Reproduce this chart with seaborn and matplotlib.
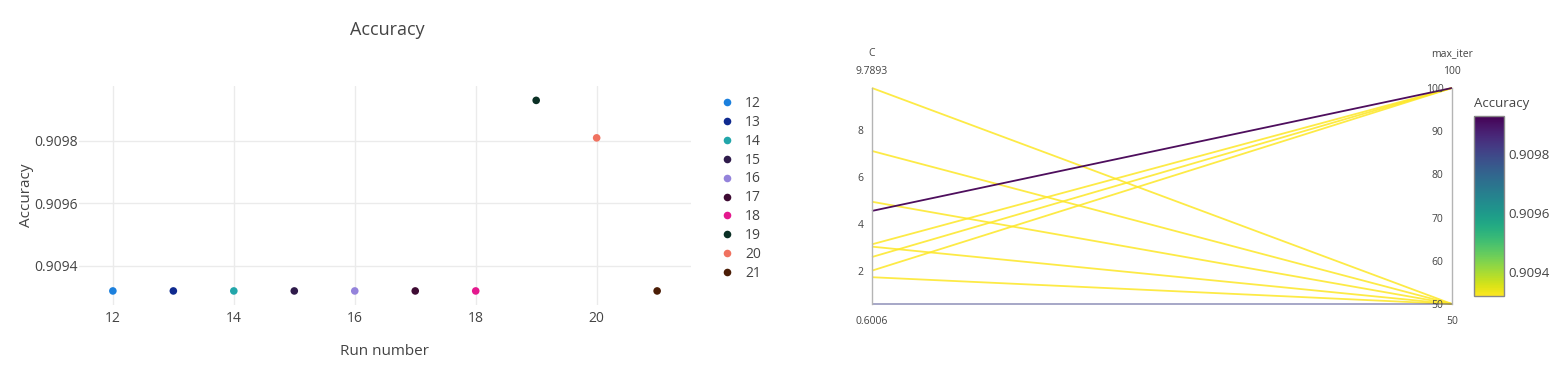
import numpy as np
import pandas as pd
import matplotlib
matplotlib.use("Agg")
import matplotlib.pyplot as plt
import seaborn as sns
from matplotlib.colors import Normalize

# ---------------- data ----------------
runs = [12, 13, 14, 15, 16, 17, 18, 19, 20, 21]
accuracy = [0.90932, 0.90932, 0.90932, 0.90932, 0.90932, 0.90932, 0.90932,
            0.90993, 0.90981, 0.90932]
C_values = [9.7893, 7.11, 4.95, 3.14, 3.04, 2.60, 2.02, 4.56, 0.6006, 1.74]
max_iter = [50, 50, 50, 100, 50, 100, 100, 100, 50, 50]
run_colors = ["#1c80dd", "#0f2a8f", "#22a6aa", "#2f1b4b", "#9483db",
              "#3e0b33", "#e4198e", "#0b3025", "#f07260", "#4b1d06"]
acc_ticks = [0.9094, 0.9096, 0.9098]
run_ticks = [12, 14, 16, 18, 20]
C_ticks = [2, 4, 6, 8]
iter_ticks = [50, 60, 70, 80, 90, 100]

df = pd.DataFrame({"run": runs, "Accuracy": accuracy, "C": C_values,
                   "max_iter": max_iter})
df["run_label"] = df["run"].astype(str)

sns.set_theme(style="white")
plt.rcParams["font.family"] = ["Open Sans", "DejaVu Sans"]
TXT = "#444444"

W, H = 1562, 378
fig = plt.figure(figsize=(W / 100, H / 100), dpi=100)

def rect(x0, y0, x1, y1):
    return [x0 / W, 1 - y1 / H, (x1 - x0) / W, (y1 - y0) / H]

# ---------------- left scatter ----------------
ax = fig.add_axes(rect(79, 86, 691, 305))
palette = dict(zip(df["run_label"], run_colors))
sns.scatterplot(data=df, x="run", y="Accuracy", hue="run_label",
                palette=palette, s=30, edgecolor="none", ax=ax, legend=True)
ax.set_xlim(11.44, 21.56)
ax.set_ylim(0.909275, 0.909976)
ax.set_xticks(run_ticks)
ax.set_yticks(acc_ticks)
ax.set_yticklabels([f"{t:.4f}" for t in acc_ticks])
ax.grid(True, color="#ebebeb", lw=1)
ax.set_axisbelow(True)
for s in ax.spines.values():
    s.set_visible(False)
ax.tick_params(length=0, labelsize=10, colors=TXT)
ax.tick_params(axis="y", pad=1)
ax.tick_params(axis="x", pad=4)
ax.set_xlabel("Run number", fontsize=11, color=TXT, labelpad=13)
ax.set_ylabel("Accuracy", fontsize=11, color=TXT, labelpad=0)
fig.text(387 / W, 1 - 30 / H, "Accuracy", ha="center", va="center",
         fontsize=13, color=TXT)
handles, labels = ax.get_legend_handles_labels()
ax.legend(handles, labels, loc="upper left",
          bbox_to_anchor=(713 / W, 1 - 89 / H), bbox_transform=fig.transFigure,
          frameon=False, fontsize=10, labelspacing=0.28, handletextpad=0.8,
          handlelength=1.0, borderpad=0, labelcolor=TXT)

# ---------------- right parallel coordinates ----------------
cmap = plt.get_cmap("viridis_r")
norm = Normalize(vmin=min(accuracy), vmax=max(accuracy))
pc = fig.add_axes(rect(872, 88, 1452, 304))
pc.set_xlim(0, 1)
pc.set_ylim(0, 1)
pc.axis("off")
cmin, cmax = min(C_values), max(C_values)
mmin, mmax = min(max_iter), max(max_iter)
order = df.sort_values("Accuracy").index
for i in order:
    yc = (df.loc[i, "C"] - cmin) / (cmax - cmin)
    ym = (df.loc[i, "max_iter"] - mmin) / (mmax - mmin)
    f = norm(df.loc[i, "Accuracy"])
    col = cmap(f)
    alpha = 0.5 if 0 < f < 0.95 else (0.95 if f >= 0.95 else 0.85)
    pc.plot([0, 1], [yc, ym], color=col, lw=1.3, alpha=alpha,
            solid_capstyle="butt", clip_on=False, zorder=3)

def make_axis(xpix, lo, hi, ticks, title, toplab, botlab):
    a = fig.add_axes(rect(xpix, 88, xpix + 0.001, 304))
    a.set_ylim(lo, hi)
    a.set_xticks([])
    a.set_yticks(ticks)
    a.set_yticklabels([str(t) for t in ticks])
    a.patch.set_visible(False)
    for k, s in a.spines.items():
        s.set_visible(k == "left")
    a.spines["left"].set_color("#b4b4b4")
    a.spines["left"].set_linewidth(1)
    a.tick_params(axis="y", length=4, width=1, color="#b4b4b4",
                  labelsize=7.5, labelcolor=TXT, pad=2)
    fig.text(xpix / W, 1 - 54 / H, title, ha="center", va="center",
             fontsize=7.5, color=TXT)
    fig.text(xpix / W, 1 - 72 / H, toplab, ha="center", va="center",
             fontsize=7.5, color=TXT)
    fig.text(xpix / W, 1 - 321 / H, botlab, ha="center", va="center",
             fontsize=7.5, color=TXT)
    return a

make_axis(872, cmin, cmax, C_ticks, "C", f"{cmax:.4f}", f"{cmin:.4f}")
make_axis(1452, mmin, mmax, iter_ticks, "max_iter", str(mmax), str(mmin))

# colorbar
cax = fig.add_axes(rect(1474, 116, 1504, 296))
sm = plt.cm.ScalarMappable(norm=norm, cmap=cmap)
cb = fig.colorbar(sm, cax=cax)
cb.set_ticks(acc_ticks)
cb.set_ticklabels([f"{t:.4f}" for t in acc_ticks])
cb.outline.set_edgecolor("#888888")
cb.outline.set_linewidth(1)
cax.tick_params(length=0, labelsize=9.5, colors=TXT, pad=3)
fig.text(1474 / W, 1 - 103 / H, "Accuracy", ha="left", va="center",
         fontsize=9.5, color=TXT)

fig.savefig("out.png", dpi=100)
